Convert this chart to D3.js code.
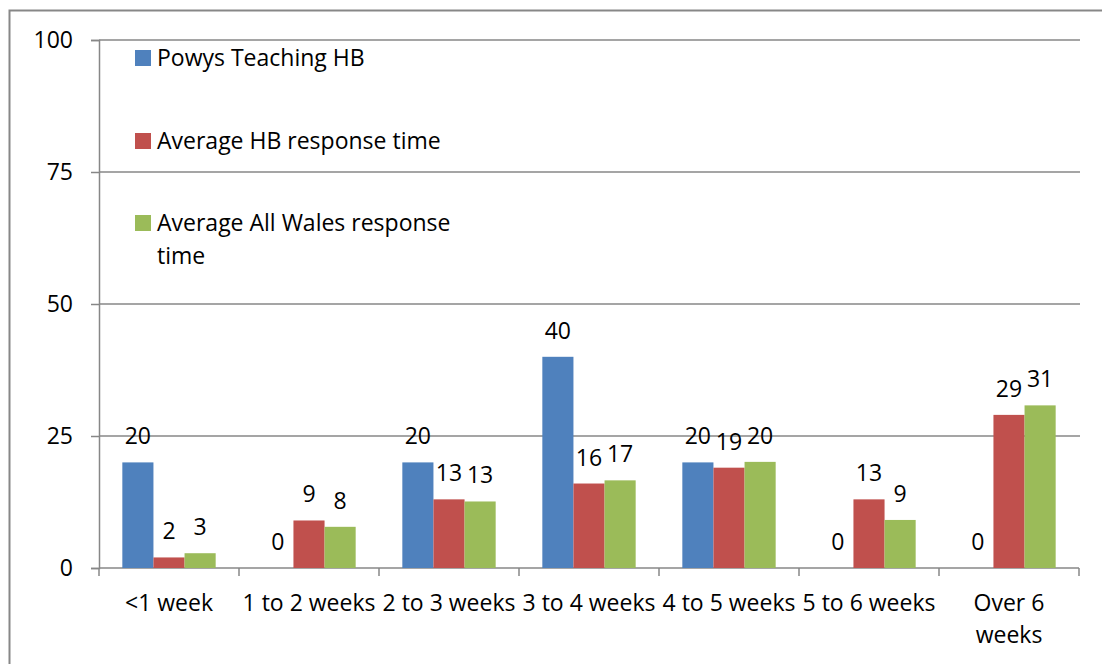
<!DOCTYPE html>
<html>
<head>
<meta charset="utf-8">
<script src="https://cdn.jsdelivr.net/npm/d3@7"></script>
<style>
  body { margin: 0; background: #fff; }
  svg { display: block; font-family: 'Open Sans', sans-serif; }
</style>
</head>
<body>
<div id="app"></div>
<script>
const categories = ['<1 week', '1 to 2 weeks', '2 to 3 weeks', '3 to 4 weeks', '4 to 5 weeks', '5 to 6 weeks', 'Over 6 weeks'];
const seriesNames = ['Powys Teaching HB', 'Average HB response time', 'Average All Wales response time'];
const powys = [20, 0, 20, 40, 20, 0, 0];
const avgHB = [2, 9, 13, 16, 19, 13, 29];
const avgWales = [2.8, 7.8, 12.6, 16.6, 20.1, 9.1, 30.8];
const yTicks = [0, 25, 50, 75, 100];
const colors = ['#4f81bd', '#c0504d', '#9bbb59'];

const width = 1102;
const height = 664;
const fontSize = 23;
const gridColor = '#878787';

const svg = d3.select('#app').append('svg')
  .attr('width', width)
  .attr('height', height);

// chart border (runs off the right and bottom edges)
svg.append('rect')
  .attr('x', 9.5)
  .attr('y', 10.5)
  .attr('width', 1110)
  .attr('height', 700)
  .attr('fill', 'none')
  .attr('stroke', gridColor)
  .attr('stroke-width', 2);

const x0 = d3.scaleBand()
  .domain(categories)
  .range([99, 1079])
  .paddingInner(1 / 3)
  .paddingOuter(1 / 6);

const x1 = d3.scaleBand()
  .domain(d3.range(3))
  .range([0, x0.bandwidth()]);

const y = d3.scaleLinear()
  .domain([0, 100])
  .range([568, 40]);

// gridlines
svg.append('g')
  .selectAll('line')
  .data(yTicks.filter(d => d > 0))
  .enter().append('line')
  .attr('x1', 99)
  .attr('x2', 1080)
  .attr('y1', d => y(d))
  .attr('y2', d => y(d))
  .attr('stroke', gridColor)
  .attr('stroke-width', 1.5);

// y axis
const yAxis = svg.append('g')
  .attr('transform', 'translate(99,0)')
  .call(d3.axisLeft(y).tickValues(yTicks).tickSize(8).tickPadding(18));
yAxis.select('.domain').attr('stroke', gridColor).attr('stroke-width', 1.5);
yAxis.selectAll('.tick line').attr('stroke', gridColor).attr('stroke-width', 1.5);
yAxis.selectAll('.tick text')
  .attr('font-family', 'Open Sans, sans-serif')
  .attr('font-size', fontSize)
  .attr('fill', '#000');

// x axis with ticks at category boundaries
const boundaries = categories.map(c => x0(c) - x0.step() * x0.paddingOuter()).concat([1079]);
const xAxisG = svg.append('g');
xAxisG.append('line')
  .attr('x1', 99).attr('x2', 1079)
  .attr('y1', y(0)).attr('y2', y(0))
  .attr('stroke', gridColor).attr('stroke-width', 1.5);
xAxisG.selectAll('.bt')
  .data(boundaries)
  .enter().append('line')
  .attr('class', 'bt')
  .attr('x1', d => d).attr('x2', d => d)
  .attr('y1', y(0)).attr('y2', y(0) + 8)
  .attr('stroke', gridColor).attr('stroke-width', 1.5);

const catLabels = xAxisG.selectAll('.cat')
  .data(categories)
  .enter().append('text')
  .attr('class', 'cat')
  .attr('text-anchor', 'middle')
  .attr('font-size', fontSize)
  .attr('x', d => x0(d) + x0.bandwidth() / 2)
  .attr('y', 611);

// wrap category labels that are too wide for their slot
catLabels.each(function (d) {
  const t = d3.select(this);
  const words = d.split(' ');
  const cx = t.attr('x');
  t.text(d);
  if (this.getComputedTextLength() <= 137) return;
  t.text(null);
  let line = [];
  let tspan = t.append('tspan').attr('x', cx).attr('dy', 0);
  words.forEach(w => {
    line.push(w);
    tspan.text(line.join(' '));
    if (tspan.node().getComputedTextLength() > 110 && line.length > 1) {
      line.pop();
      tspan.text(line.join(' '));
      line = [w];
      tspan = t.append('tspan').attr('x', cx).attr('dy', 32).text(w);
    }
  });
});

// bars
const rows = categories.map((c, i) => ({ cat: c, values: [powys[i], avgHB[i], avgWales[i]] }));

const groups = svg.append('g')
  .selectAll('g')
  .data(rows)
  .enter().append('g')
  .attr('transform', d => `translate(${x0(d.cat)},0)`);

groups.selectAll('rect')
  .data(d => d.values)
  .enter().append('rect')
  .attr('x', (d, i) => x1(i))
  .attr('width', x1.bandwidth())
  .attr('y', d => y(d))
  .attr('height', d => y(0) - y(d))
  .attr('fill', (d, i) => colors[i]);

groups.selectAll('text')
  .data(d => d.values)
  .enter().append('text')
  .attr('text-anchor', 'middle')
  .attr('font-size', fontSize)
  .attr('x', (d, i) => x1(i) + x1.bandwidth() / 2)
  .attr('y', d => y(d) - 18)
  .text(d => Math.round(d));

// legend
const legendY = [58, 141, 223];
const legend = svg.append('g')
  .selectAll('g')
  .data(seriesNames)
  .enter().append('g')
  .attr('transform', (d, i) => `translate(135,${legendY[i]})`);

legend.append('rect')
  .attr('x', 0)
  .attr('y', -8)
  .attr('width', 16)
  .attr('height', 16)
  .attr('fill', (d, i) => colors[i]);

legend.append('text')
  .attr('x', 22)
  .attr('y', 0)
  .attr('dy', '0.35em')
  .attr('font-size', fontSize)
  .each(function (d) {
    const t = d3.select(this);
    const words = d.split(' ');
    let line = [];
    let tspan = t.append('tspan').attr('x', 22);
    words.forEach(w => {
      line.push(w);
      tspan.text(line.join(' '));
      if (tspan.node().getComputedTextLength() > 310 && line.length > 1) {
        line.pop();
        tspan.text(line.join(' '));
        line = [w];
        tspan = t.append('tspan').attr('x', 22).attr('dy', 33).text(w);
      }
    });
  });
</script>
</body>
</html>
